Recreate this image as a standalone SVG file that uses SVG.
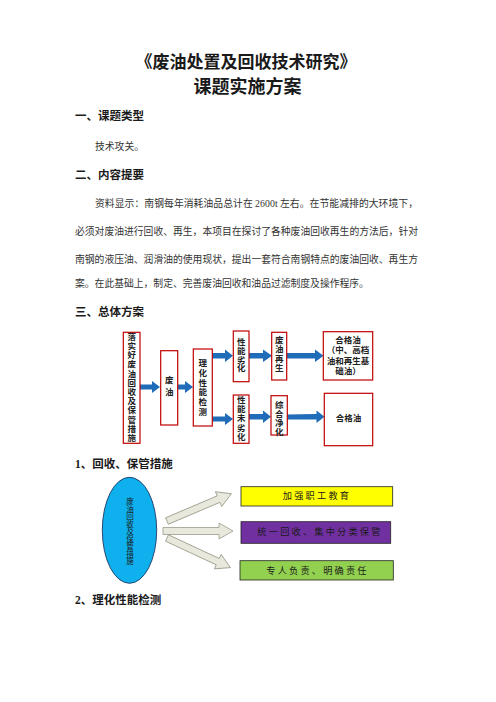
<svg xmlns="http://www.w3.org/2000/svg" width="496" height="702" viewBox="0 0 496 702">
<style>
text{font-family:"Noto Sans CJK SC","Noto Sans",sans-serif;fill:#1a1a1a}
.title{font-weight:700;text-anchor:middle}
.h{font-size:11.5px;font-weight:700}
.b{font-size:9.8px;fill:#333}
.box{fill:#fff;stroke:#c00000;stroke-width:1.2}
.bt{font-size:8.5px;font-weight:700;text-anchor:middle;fill:#222}
.blue{fill:#1f6cb8}
.gray{fill:#e8e8dc;stroke:#9a9a8a;stroke-width:0.8}
.rt{font-size:9.2px;text-anchor:middle;letter-spacing:2.2px;fill:#1a1a1a}
.ser{font-family:"Liberation Serif",serif}
</style>
<defs>
<path id="barrow" d="M0,-3.5 H56 V-8 L70,0 L56,8 V3.5 H0 Z"/>
</defs>
<rect width="496" height="702" fill="#fff"/>

<g id="headings">
<text class="title" x="246" y="68" font-size="17">《废油处置及回收技术研究》</text>
<text class="title" x="247.5" y="93" font-size="18">课题实施方案</text>
<text class="h" x="75" y="120">一、课题类型</text>
<text class="b" x="95" y="149.5">技术攻关。</text>
<text class="h" x="75" y="179">二、内容提要</text>
<text class="b" x="95" y="207" textLength="323" lengthAdjust="spacing">资料显示：南钢每年消耗油品总计在 <tspan class="ser">2600t</tspan> 左右。在节能减排的大环境下，</text>
<text class="b" x="75" y="235" textLength="343" lengthAdjust="spacing">必须对废油进行回收、再生，本项目在探讨了各种废油回收再生的方法后，针对</text>
<text class="b" x="75" y="263" textLength="343" lengthAdjust="spacing">南钢的液压油、润滑油的使用现状，提出一套符合南钢特点的废油回收、再生方</text>
<text class="b" x="75" y="287">案。在此基础上，制定、完善废油回收和油品过滤制度及操作程序。</text>
<text class="h" x="75" y="315.5">三、总体方案</text>
<text class="h" x="75" y="468" font-size="10.5"><tspan class="ser">1</tspan>、回收、保管措施</text>
<text class="h" x="75" y="604" font-size="10.5"><tspan class="ser">2</tspan>、理化性能检测</text>
</g>

<g id="connectors">
<polygon class="blue" points="140,384.5 152,384.5 152,381 160,387 152,393 152,389.5 140,389.5"/>
<polygon class="blue" points="178,384.5 185,384.5 185,381 193,387 185,393 185,389.5 178,389.5"/>
<polygon class="blue" points="212,353 225,353 225,349.5 233,355.7 225,362 225,358.5 212,358.5"/>
<polygon class="blue" points="212,416.5 225,416.5 225,413 233,419 225,425 225,421.5 212,421.5"/>
<polygon class="blue" points="249,353 263,353 263,349.5 272,355.7 263,362 263,358.5 249,358.5"/>
<polygon class="blue" points="287,353 315,353 315,349.5 323.5,355.7 315,362 315,358.5 287,358.5"/>
<polygon class="blue" points="249,414 263,414 263,410.5 271,416.7 263,423 263,419.5 249,419.5"/>
<polygon class="blue" points="287,414.5 316.5,414 316.5,410.5 324.5,416.7 316.5,423 316.5,419.5 287,419.5"/>
<use href="#barrow" class="gray" transform="translate(167,521) rotate(-23)"/>
<use href="#barrow" class="gray" transform="translate(163,531)"/>
<use href="#barrow" class="gray" transform="translate(167,538) rotate(25)"/>
</g>

<g id="n1"><rect class="box" x="123.3" y="332.3" width="16.7" height="111"/>
<text class="bt" x="131.7 131.7 131.7 131.7 131.7 131.7 131.7 131.7 131.7 131.7 131.7 131.7" y="339.7 348.9 358.1 367.3 376.5 385.7 394.9 404.1 413.3 422.5 431.7 440.9">落实好废油回收及保管措施</text></g>
<g id="n2"><rect class="box" x="160.7" y="350.7" width="17" height="74.3"/>
<text class="bt" x="169.2 169.2" y="383 395">废油</text></g>
<g id="n3"><rect class="box" x="193.3" y="349" width="19" height="77"/>
<text class="bt" x="202.8 202.8 202.8 202.8 202.8 202.8" y="366.3 376 385.7 395.4 405.1 414.8">理化性能检测</text></g>
<g id="n4"><rect class="box" x="233.3" y="331" width="15.7" height="50.7"/>
<text class="bt" x="241.2 241.2 241.2 241.2" y="344.7 353.6 362.5 371.4">性能劣化</text></g>
<g id="n5"><rect class="box" x="271.7" y="332.3" width="15" height="47.7"/>
<text class="bt" x="279.2 279.2 279.2 279.2" y="343 352.4 361.8 371.2">废油再生</text></g>
<g id="n6"><rect class="box" x="323.3" y="331.7" width="49.4" height="48.3"/>
<text class="bt" font-size="7.2"><tspan x="348" y="342.5">合格油</tspan><tspan x="348" y="353">（中、高档</tspan><tspan x="348" y="363.5">油和再生基</tspan><tspan x="348" y="374">础油）</tspan></text></g>
<g id="n7"><rect class="box" x="233.3" y="395" width="15.7" height="48.3"/>
<text class="bt" x="241.2 241.2 241.2 241.2 241.2" y="403 412.2 421.4 430.6 439.8">性能未劣化</text></g>
<g id="n8"><rect class="box" x="271" y="395.7" width="16.3" height="39.3"/>
<text class="bt" x="279.2 279.2 279.2 279.2" y="408 417.1 426.2 435.3">综合净化</text></g>
<g id="n9"><rect class="box" x="324.3" y="393.3" width="48.4" height="52.4"/>
<text class="bt" font-size="8" x="348.5" y="421">合格油</text></g>

<g id="e1"><ellipse cx="129.5" cy="530.3" rx="27.2" ry="53" fill="#0fb0ee" stroke="#1f3864" stroke-width="0.9"/>
<text font-size="7.5" text-anchor="middle" x="130 130 130 130 130 130 130 130 130" y="504.3 511.8 519.3 526.8 534.3 541.8 549.3 556.8 564.3">废油回收及保管措施</text></g>
<g id="r1"><rect x="241" y="486.7" width="151.7" height="19.3" fill="#ffff00" stroke="#222" stroke-width="0.8"/>
<text class="rt" x="317" y="499.2">加强职工教育</text></g>
<g id="r2"><rect x="241" y="521.7" width="149.7" height="21.6" fill="#7030a0" stroke="#222" stroke-width="0.8"/>
<text class="rt" x="320" y="535.2">统一回收、集中分类保管</text></g>
<g id="r3"><rect x="240" y="560.7" width="153.3" height="19.3" fill="#92d050" stroke="#222" stroke-width="0.8"/>
<text class="rt" x="317.5" y="573.5">专人负责、明确责任</text></g>
</svg>
